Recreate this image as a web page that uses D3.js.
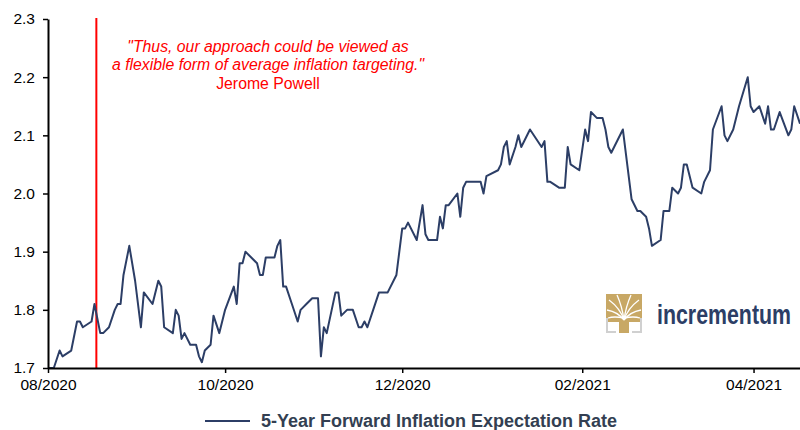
<!DOCTYPE html>
<html>
<head>
<meta charset="utf-8">
<script src="https://cdn.jsdelivr.net/npm/d3@7"></script>
<style>
body{margin:0;background:#fff;}
svg{display:block;font-family:"Liberation Sans",Arial,sans-serif;}
</style>
</head>
<body>
<svg id="chart" width="800" height="430"></svg>
<script>
// values
const dates = [
 "2020-08-01","2020-08-03","2020-08-05","2020-08-06","2020-08-09","2020-08-11","2020-08-12","2020-08-13","2020-08-16","2020-08-17",
 "2020-08-19","2020-08-20","2020-08-22","2020-08-24","2020-08-25","2020-08-26","2020-08-27","2020-08-29","2020-08-31","2020-09-02",
 "2020-09-03","2020-09-06","2020-09-08","2020-09-09","2020-09-10","2020-09-13","2020-09-14","2020-09-15","2020-09-16","2020-09-17",
 "2020-09-19","2020-09-21","2020-09-22","2020-09-23","2020-09-24","2020-09-26","2020-09-27","2020-09-29","2020-10-01","2020-10-04",
 "2020-10-05","2020-10-06","2020-10-07","2020-10-08","2020-10-12","2020-10-13","2020-10-14","2020-10-15","2020-10-18","2020-10-19",
 "2020-10-20","2020-10-21","2020-10-22","2020-10-24","2020-10-26","2020-10-27","2020-10-29","2020-10-31","2020-11-02","2020-11-03",
 "2020-11-04","2020-11-05","2020-11-08","2020-11-09","2020-11-10","2020-11-12","2020-11-14","2020-11-16","2020-11-17","2020-11-18",
 "2020-11-19","2020-11-21","2020-11-23","2020-11-26","2020-11-29","2020-12-01","2020-12-02","2020-12-03","2020-12-06","2020-12-08",
 "2020-12-09","2020-12-10","2020-12-13","2020-12-14","2020-12-15","2020-12-16","2020-12-17","2020-12-20","2020-12-21","2020-12-22",
 "2020-12-23","2020-12-28","2020-12-29","2020-12-30","2021-01-03","2021-01-04","2021-01-05","2021-01-06","2021-01-07","2021-01-09",
 "2021-01-10","2021-01-11","2021-01-14","2021-01-18","2021-01-19","2021-01-20","2021-01-21","2021-01-24","2021-01-26","2021-01-27",
 "2021-01-28","2021-01-31","2021-02-02","2021-02-03","2021-02-04","2021-02-06","2021-02-08","2021-02-09","2021-02-10","2021-02-11",
 "2021-02-15","2021-02-18","2021-02-20","2021-02-21","2021-02-23","2021-02-24","2021-02-25","2021-02-28","2021-03-01","2021-03-03",
 "2021-03-04","2021-03-06","2021-03-07","2021-03-08","2021-03-09","2021-03-11","2021-03-14","2021-03-15","2021-03-17","2021-03-18",
 "2021-03-21","2021-03-22","2021-03-23","2021-03-25","2021-03-27","2021-03-30","2021-03-31","2021-04-01","2021-04-03","2021-04-05",
 "2021-04-06","2021-04-07","2021-04-08","2021-04-10","2021-04-13","2021-04-14","2021-04-15","2021-04-17"
];
const rates = [
 1.70,1.70,1.73,1.72,1.73,1.78,1.78,1.77,1.78,1.81,
 1.76,1.76,1.77,1.80,1.81,1.81,1.86,1.91,1.85,1.77,
 1.83,1.81,1.85,1.84,1.77,1.76,1.80,1.79,1.75,1.76,
 1.74,1.74,1.72,1.71,1.73,1.74,1.79,1.76,1.80,1.84,
 1.81,1.88,1.88,1.90,1.88,1.86,1.86,1.89,1.89,1.91,
 1.92,1.84,1.84,1.81,1.78,1.80,1.81,1.82,1.82,1.72,
 1.77,1.76,1.83,1.83,1.79,1.80,1.80,1.77,1.77,1.78,
 1.77,1.80,1.83,1.83,1.86,1.94,1.94,1.95,1.92,1.98,
 1.93,1.92,1.92,1.96,1.94,1.98,1.98,2.00,1.96,2.01,
 2.02,2.02,2.00,2.03,2.04,2.05,2.08,2.09,2.05,2.08,
 2.10,2.08,2.11,2.08,2.09,2.02,2.02,2.01,2.01,2.08,
 2.05,2.04,2.11,2.09,2.14,2.13,2.13,2.11,2.08,2.07,
 2.11,1.99,1.97,1.97,1.96,1.94,1.91,1.92,1.97,1.97,
 2.01,2.00,2.01,2.05,2.05,2.01,2.00,2.02,2.04,2.11,
 2.15,2.10,2.09,2.11,2.15,2.20,2.15,2.14,2.15,2.12,
 2.15,2.11,2.11,2.14,2.10,2.11,2.15,2.12
];
const yTicks = [1.7, 1.8, 1.9, 2.0, 2.1, 2.2, 2.3];
const xTicks = ["2020-08-01", "2020-10-01", "2020-12-01", "2021-02-01", "2021-04-01"];
const xRange = ["2020-08-01", "2021-04-17"];
const speechDate = "2020-08-18";
const quoteLines = ["\"Thus, our approach could be viewed as", "a flexible form of average inflation targeting.\"", "Jerome Powell"];
const seriesName = "5-Year Forward Inflation Expectation Rate";
const logoText = "incrementum";

const LINE_COLOR = "#2c3e66";
const MARGIN = { left: 48, right: 0, top: 19, bottom: 62 };
const WIDTH = 800, HEIGHT = 430;

const parse = d3.timeParse("%Y-%m-%d");
const data = dates.map((d, i) => ({ date: parse(d), value: rates[i] }));

const svg = d3.select("#chart");

const x = d3.scaleTime()
  .domain(xRange.map(parse))
  .range([MARGIN.left, WIDTH - MARGIN.right]);
const y = d3.scaleLinear()
  .domain([1.7, 2.3])
  .range([HEIGHT - MARGIN.bottom, MARGIN.top]);

// quote marker
svg.append("line")
  .attr("x1", x(parse(speechDate)) - 1).attr("x2", x(parse(speechDate)) - 1)
  .attr("y1", y(2.3) - 1).attr("y2", y(1.7))
  .attr("stroke", "#ff0000").attr("stroke-width", 2);

// series
svg.append("path")
  .datum(data)
  .attr("fill", "none")
  .attr("stroke", LINE_COLOR)
  .attr("stroke-width", 2)
  .attr("stroke-linejoin", "round")
  .attr("d", d3.line().x(d => x(d.date)).y(d => y(d.value)));

// axes
const yAxis = svg.append("g")
  .attr("transform", `translate(${MARGIN.left},0)`)
  .call(d3.axisLeft(y).tickValues(yTicks).tickFormat(d3.format(".1f")).tickSize(5).tickSizeOuter(0).tickPadding(8));
const xAxis = svg.append("g")
  .attr("transform", `translate(0,${y(1.7)})`)
  .call(d3.axisBottom(x).tickValues(xTicks.map(parse)).tickFormat(d3.timeFormat("%m/%Y")).tickSize(5).tickSizeOuter(0).tickPadding(6));
[yAxis, xAxis].forEach(g => {
  g.select(".domain").attr("stroke", "#000").attr("stroke-width", 2);
  g.selectAll(".tick line").attr("stroke", "#000").attr("stroke-width", 1.5);
  g.selectAll(".tick text").attr("fill", "#000").attr("font-size", 15.5).attr("font-family", "Liberation Sans, Arial, sans-serif");
});

// quote
svg.append("g").selectAll("text")
  .data(quoteLines)
  .join("text")
  .attr("x", 268)
  .attr("y", (d, i) => 51.5 + i * 18.5)
  .attr("text-anchor", "middle")
  .attr("font-size", 15.8)
  .attr("font-style", (d, i) => i < 2 ? "italic" : "normal")
  .attr("fill", "#ff0000")
  .text(d => d);

// logo
const logo = svg.append("g").attr("transform", "translate(606,294)");
logo.append("rect").attr("width", 36).attr("height", 28).attr("fill", "#c8a865");
logo.append("rect").attr("x", 13).attr("y", 22).attr("width", 10).attr("height", 17).attr("fill", "#c8a865");
const branches = [
  "M18,26 Q14,14 3,6", "M18,26 Q12,18 1,16", "M18,26 Q16,12 11,1",
  "M18,26 Q20,12 25,1", "M18,26 Q22,14 33,6", "M18,26 Q24,18 35,16",
  "M18,24 Q8,22 2,24", "M18,24 Q28,22 34,24"
];
logo.selectAll("path.br")
  .data(branches)
  .join("path")
  .attr("class", "br")
  .attr("d", d => d)
  .attr("fill", "none")
  .attr("stroke", "#fff")
  .attr("stroke-width", 1.3);
logo.append("path").attr("d", "M1,24 V38 H10").attr("fill", "none").attr("stroke", "#d0d0d0").attr("stroke-width", 2);
logo.append("path").attr("d", "M35,24 V38 H26").attr("fill", "none").attr("stroke", "#d0d0d0").attr("stroke-width", 2);
svg.append("text")
  .attr("x", 657).attr("y", 324)
  .attr("font-size", 27)
  .attr("font-weight", "bold")
  .attr("fill", LINE_COLOR)
  .attr("textLength", 134)
  .attr("lengthAdjust", "spacingAndGlyphs")
  .text(logoText);

// legend
svg.append("line")
  .attr("x1", 205).attr("x2", 250).attr("y1", 421).attr("y2", 421)
  .attr("stroke", LINE_COLOR).attr("stroke-width", 2);
svg.append("text")
  .attr("x", 261).attr("y", 427)
  .attr("font-size", 18)
  .attr("font-weight", "bold")
  .attr("fill", "#333f52")
  .text(seriesName);
</script>
</body>
</html>
